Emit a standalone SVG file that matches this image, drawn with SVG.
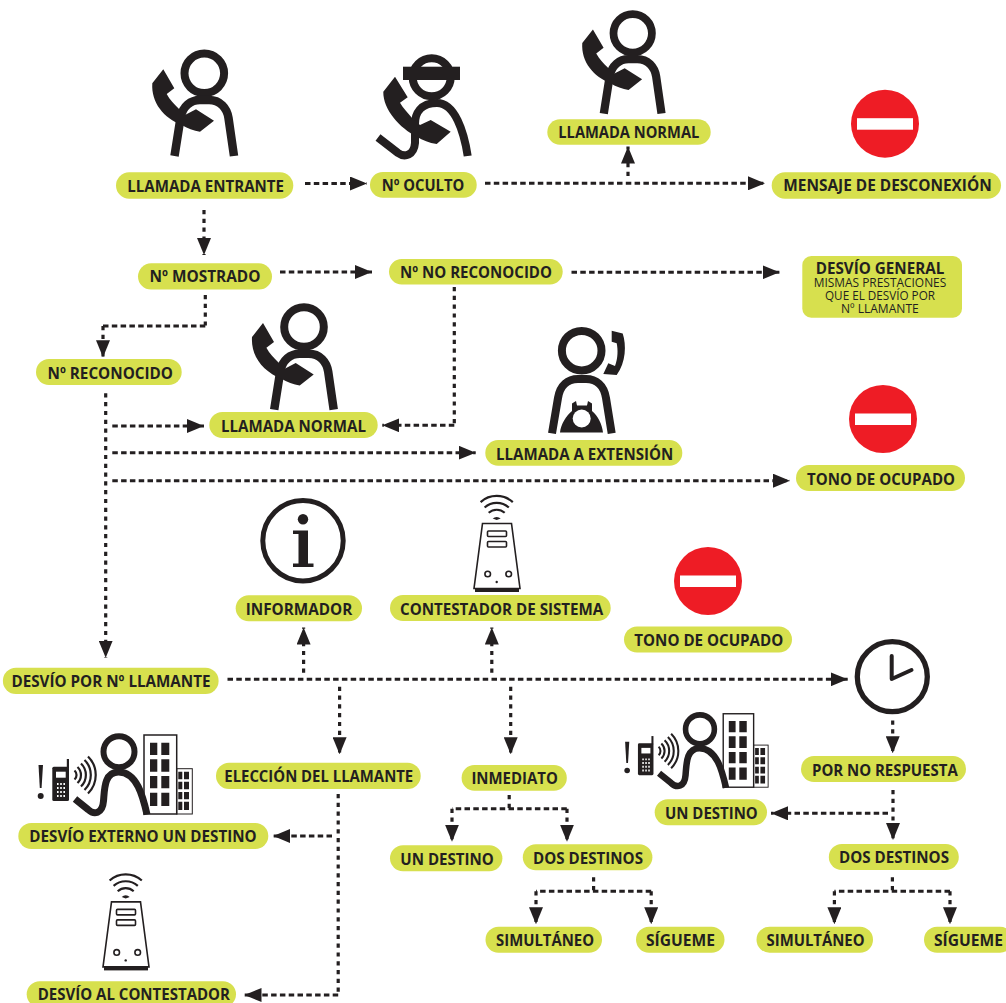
<svg xmlns="http://www.w3.org/2000/svg" xmlns:xlink="http://www.w3.org/1999/xlink" width="1006" height="1003" viewBox="0 0 1006 1003">
<style>
.p{fill:#d7e04e}
.t{font-family:"Open Sans","Liberation Sans",sans-serif;font-weight:700;font-size:16.5px;fill:#231f20}
.s{font-family:"Open Sans","Liberation Sans",sans-serif;font-weight:400;font-size:12.5px;fill:#231f20}
.k{fill:#231f20}
.o{fill:none;stroke:#231f20;stroke-width:8}
.c{fill:none;stroke:#231f20;stroke-width:3;stroke-dasharray:5.5 3.3}
.v{fill:none;stroke:#231f20;stroke-width:3.2;stroke-dasharray:4.2 4.6}
.a{marker-end:url(#ah)}
.w{fill:none;stroke:#231f20;stroke-width:2}
</style>
<defs>
<marker id="ah" markerUnits="userSpaceOnUse" markerWidth="17" markerHeight="14" refX="17" refY="7" orient="auto"><path d="M0 0L17 7L0 14Z" fill="#231f20"/></marker>
<g id="person">
<circle cx="204.3" cy="73.3" r="19.8" class="o"/>
<path class="o" style="stroke-width:8.5" d="M174.5 156L180.5 118C182.5 106 191 100 200 100L209 100C220 100 227 108 228.5 118L234 156"/>
<path class="k" d="M152.3 83.3L163.3 69.3L174.3 88.3L166.7 94C170 100 174 104 178.3 108.3L185 115L196 109.3L214 120.7L200 131.7C194 131 187 128 181.7 125C164 118 151 103 152.3 83.3Z"/>
</g>
<g id="stop"><circle cx="0" cy="0" r="34" fill="#ee1c25"/><rect x="-28" y="-5.5" width="56" height="11.5" fill="#fff"/></g>
<g id="machine">
<path class="w" d="M480.6 502.1A24 24 0 0 1 512.8 502.1M484.6 507.5A18 18 0 0 1 508.8 507.5M488.7 512.8A12 12 0 0 1 504.7 512.8" style="stroke-width:2.2"/>
<path class="k" d="M492.7 518.5A6 6 0 0 1 500.7 518.5L496.7 520Z"/>
<path fill="#fff" stroke="#231f20" stroke-width="1.6" d="M482.5 523.5L511.5 523.5L520 588.5L474 588.5Z"/>
<rect x="475" y="588.5" width="44" height="3.5" class="k"/>
<rect x="487.5" y="531" width="19" height="5.5" rx="1" fill="none" stroke="#231f20" stroke-width="1.6"/>
<rect x="487.5" y="541.5" width="19" height="5.5" rx="1" fill="none" stroke="#231f20" stroke-width="1.6"/>
<circle cx="487.7" cy="574" r="2.8" fill="none" stroke="#231f20" stroke-width="1.6"/>
<circle cx="508.7" cy="574" r="2.8" fill="none" stroke="#231f20" stroke-width="1.6"/>
<circle cx="496.7" cy="582" r="1.2" class="k"/>
</g>
<g id="external">
<path class="k" d="M38.5 765L43 765L41.6 788L39.8 788Z"/><circle cx="40.7" cy="796" r="3" class="k"/>
<rect x="52.3" y="766.7" width="16.7" height="34.3" rx="1.5" class="k"/><rect x="66.8" y="759" width="2.2" height="9" class="k"/>
<rect x="56" y="771.7" width="9.7" height="6" fill="#fff"/>
<path d="M57 784h1.6M60.2 784h1.6M63.4 784h1.6M57 788h1.6M60.2 788h1.6M63.4 788h1.6M57 792h1.6M60.2 792h1.6M63.4 792h1.6M57 796h1.6M60.2 796h1.6M63.4 796h1.6" stroke="#fff" stroke-width="2" fill="none"/>
<path class="w" d="M74.5 770.5A6 6 0 0 1 74.5 779.5M77.5 767A11 11 0 0 1 77.5 783M81 763.5A16 16 0 0 1 81 786.5M84.5 760A21 21 0 0 1 84.5 790M88 756.5A26 26 0 0 1 88 793.5" style="stroke-width:2.2"/>
<rect x="176.7" y="768.7" width="15.6" height="45.3" fill="#fff" stroke="#231f20" stroke-width="1"/>
<path class="k" d="M178.3 771.7h4v7.6h-4zM184 771.7h5v7.6h-5zM178.3 781.7h4v7.6h-4zM184 781.7h5v7.6h-5zM178.3 792h4v7.3h-4zM184 792h5v7.3h-5zM178.3 801.7h4v8.3h-4zM184 801.7h5v8.3h-5z"/>
<rect x="144" y="735" width="32.7" height="79" fill="#fff" stroke="#231f20" stroke-width="1.5"/>
<path class="k" d="M150 742.7h7.3v12.3h-7.3zM161.3 742.7h8v12.3h-8zM150 759.3h7.3v12.4h-7.3zM161.3 759.3h8v12.4h-8zM150 776h7.3v12.3h-7.3zM161.3 776h8v12.3h-8zM150 792.7h7.3v13.3h-7.3zM161.3 792.7h8v13.3h-8z"/>
<circle cx="119" cy="751.7" r="15.5" fill="none" stroke="#231f20" stroke-width="6"/>
<path d="M147 814.5C143 797 137 772 118.5 772C104 772 104.5 790 103.5 801C102.5 814 94 815 88 809.5L75 799" fill="none" stroke="#231f20" stroke-width="7"/>
</g>
</defs>

<g id="connectors">
<path class="c a" d="M305 183.5H367"/>
<path class="c a" d="M485 183.3H765"/>
<path class="v a" d="M628 176V146.5"/>
<path class="v a" d="M204 210V255"/>
<path class="c a" d="M280 272H372"/>
<path class="c a" d="M571.5 272.3H779.5"/>
<path class="v" d="M205.3 295V326"/>
<path class="c" d="M205.3 326H103"/>
<path class="v a" d="M103 326V357.3"/>
<path class="v" d="M454.3 287V425.3"/>
<path class="c a" d="M454.3 425.3H382.3"/>
<path class="v a" d="M105.7 393.3V657.7"/>
<path class="c a" d="M112.3 426H204"/>
<path class="c a" d="M112.3 452.7H475.7"/>
<path class="c a" d="M112.3 480.7H790"/>
<path class="c a" d="M227.5 679.3H847.7"/>
<path class="v a" d="M303.6 672.7V627.5"/>
<path class="v a" d="M491.8 672.7V627.5"/>
<path class="v a" d="M339.6 686.7V754.3"/>
<path class="v a" d="M510.7 686.7V754.3"/>
<path class="v a" d="M892.7 720.5V753.3"/>
<path class="v a" d="M893 790V840"/>
<path class="c a" d="M888 813.3H771"/>
<path class="v" d="M338.2 794V995"/>
<path class="c a" d="M338.2 995H244.5"/>
<path class="c a" d="M332 836H273.3"/>
<path class="v" d="M509.2 795V808.7"/>
<path class="c" d="M566.8 808.7H452"/>
<path class="v a" d="M452 808.7V841.7"/>
<path class="v a" d="M567 808.7V841.7"/>
<path class="v" d="M593.6 877.3V891.3"/>
<path class="c" d="M651.2 891.3H536"/>
<path class="v a" d="M536 891.3V924.3"/>
<path class="v a" d="M651.2 891.3V924.3"/>
<path class="v" d="M892.4 877.3V891.3"/>
<path class="c" d="M950 891.3H834.4"/>
<path class="v a" d="M834.4 891.3V924.3"/>
<path class="v a" d="M950 891.3V924.3"/>
</g>

<g id="llamada-entrante"><use href="#person"/><rect class="p" x="116" y="172.3" width="177.3" height="26.4" rx="13.2"/><text class="t" x="127.3" y="191.7" textLength="156.7" lengthAdjust="spacingAndGlyphs">LLAMADA ENTRANTE</text></g>

<g id="numero-oculto">
<circle cx="431.7" cy="77.3" r="19" class="o"/>
<rect x="403" y="66.7" width="57" height="13.3" class="k"/>
<path class="o" d="M467.7 156C464 132 455 103 437 103C420 103 415 114 415 124L415 143C414 155 405 158 398 153L378 137.5"/>
<path class="k" d="M383.3 91.7L395 76.7L407.7 97.3L400 102.7C403 108 408 113 412 118L420 125L430.7 120L450.7 131.7L436.7 144C429 143 423 140 416.7 136.7C400 128 383 110 383.3 91.7Z"/>
<rect class="p" x="370" y="172" width="106.7" height="25.7" rx="12.8"/><text class="t" x="381.7" y="190.7" textLength="82.6" lengthAdjust="spacingAndGlyphs">Nº OCULTO</text></g>

<g id="llamada-normal-1"><use href="#person" transform="translate(632.7 33.3) scale(.97) translate(-204.3 -73.3)"/><rect class="p" x="547.3" y="119.3" width="163.4" height="25.4" rx="12.7"/><text class="t" x="558.3" y="138.3" textLength="141" lengthAdjust="spacingAndGlyphs">LLAMADA NORMAL</text></g>

<g id="mensaje-desconexion"><use href="#stop" x="885" y="123.7"/><rect class="p" x="771.7" y="172.3" width="229.3" height="26.4" rx="13.2"/><text class="t" x="783.3" y="190.7" textLength="208.4" lengthAdjust="spacingAndGlyphs">MENSAJE DE DESCONEXIÓN</text></g>

<g id="numero-mostrado"><rect class="p" x="138" y="263.3" width="134" height="26.2" rx="13.1"/><text class="t" x="149.5" y="281.7" textLength="111" lengthAdjust="spacingAndGlyphs">Nº MOSTRADO</text></g>

<g id="numero-no-reconocido"><rect class="p" x="389" y="259" width="173.7" height="25.5" rx="12.7"/><text class="t" x="400" y="277.7" textLength="152" lengthAdjust="spacingAndGlyphs">Nº NO RECONOCIDO</text></g>

<g id="desvio-general"><rect class="p" x="802.3" y="256" width="159.7" height="61.7" rx="9"/>
<text class="s"><tspan class="t" x="815.7" y="274" textLength="128.6" lengthAdjust="spacingAndGlyphs">DESVÍO GENERAL</tspan><tspan x="813.7" y="287.3" textLength="132.6" lengthAdjust="spacingAndGlyphs">MISMAS PRESTACIONES</tspan><tspan x="825" y="300" textLength="110" lengthAdjust="spacingAndGlyphs">QUE EL DESVÍO POR</tspan><tspan x="841" y="313.3" textLength="77.7" lengthAdjust="spacingAndGlyphs">Nº LLAMANTE</tspan></text></g>

<g id="numero-reconocido"><rect class="p" x="36" y="359" width="145.7" height="26" rx="13"/><text class="t" x="47.5" y="378.5" textLength="125.5" lengthAdjust="spacingAndGlyphs">Nº RECONOCIDO</text></g>

<g id="llamada-normal-2"><use href="#person" transform="translate(99.7 253.7)"/><rect class="p" x="209.3" y="412" width="168.4" height="26" rx="13"/><text class="t" x="221" y="431.7" textLength="145" lengthAdjust="spacingAndGlyphs">LLAMADA NORMAL</text></g>

<g id="llamada-extension">
<circle cx="581.7" cy="350.7" r="19.8" class="o"/>
<path class="o" d="M552 433.3L558 398C560 385 568 379 578 379L586 379C596 379 604 385 606 398L611.7 433.3"/>
<path class="k" d="M560 432.5C561 424 566 416 572 411L572 403.5L576 401L577 405.5L587 405.5L588 401L592 403.5L592 411C598 416 602 424 603 432.5Z"/>
<circle cx="581.7" cy="418.5" r="9" fill="#fff"/>
<path class="k" d="M611.7 330.7L622.7 333.5C626.5 345 626 362 616.7 375L603.3 374L608.3 363.3L615 366C618 358 618 350 616.7 343.3L611.7 341.7Z"/>
<rect class="p" x="485.3" y="440" width="197" height="25.7" rx="12.8"/><text class="t" x="496" y="460" textLength="177.3" lengthAdjust="spacingAndGlyphs">LLAMADA A EXTENSIÓN</text></g>

<g id="tono-ocupado-1"><use href="#stop" x="883" y="419"/><rect class="p" x="796" y="465" width="169" height="26" rx="13"/><text class="t" x="807" y="485" textLength="148" lengthAdjust="spacingAndGlyphs">TONO DE OCUPADO</text></g>

<g id="informador">
<circle cx="303" cy="540.7" r="40.2" fill="none" stroke="#231f20" stroke-width="5"/>
<circle cx="303" cy="519.3" r="5.2" class="k"/>
<path class="k" d="M293 530.5H308V563.5H313.5V567H293V563.5H298.5V534H293Z"/>
<rect class="p" x="235.7" y="595.3" width="126.3" height="26" rx="13"/><text class="t" x="245.7" y="615" textLength="106.6" lengthAdjust="spacingAndGlyphs">INFORMADOR</text></g>

<g id="contestador-sistema"><use href="#machine"/><rect class="p" x="390" y="595" width="220.7" height="26" rx="13"/><text class="t" x="400" y="615" textLength="203.3" lengthAdjust="spacingAndGlyphs">CONTESTADOR DE SISTEMA</text></g>

<g id="tono-ocupado-2"><use href="#stop" x="708" y="581"/><rect class="p" x="624" y="626.5" width="168" height="26" rx="13"/><text class="t" x="634.3" y="645.7" textLength="149" lengthAdjust="spacingAndGlyphs">TONO DE OCUPADO</text></g>

<g id="desvio-numero-llamante"><rect class="p" x="2.9" y="667.7" width="215.7" height="26.3" rx="13.1"/><text class="t" x="11.5" y="687" textLength="199" lengthAdjust="spacingAndGlyphs">DESVÍO POR Nº LLAMANTE</text></g>

<g id="reloj">
<circle cx="892.3" cy="676.7" r="35" fill="none" stroke="#231f20" stroke-width="5.3"/>
<path d="M891.7 656V679L911.5 670" fill="none" stroke="#231f20" stroke-width="4" stroke-linecap="round" stroke-linejoin="round"/></g>

<g id="desvio-externo"><use href="#external"/><rect class="p" x="18.3" y="823" width="250" height="26" rx="13"/><text class="t" x="29.3" y="841.7" textLength="227.4" lengthAdjust="spacingAndGlyphs">DESVÍO EXTERNO UN DESTINO</text></g>

<g id="eleccion-llamante"><rect class="p" x="216" y="762.7" width="204.7" height="26.3" rx="13.1"/><text class="t" x="224.3" y="781.7" textLength="188.9" lengthAdjust="spacingAndGlyphs">ELECCIÓN DEL LLAMANTE</text></g>

<g id="inmediato"><rect class="p" x="461.6" y="765" width="105.2" height="25.7" rx="12.8"/><text class="t" x="471.4" y="783.5" textLength="86.5" lengthAdjust="spacingAndGlyphs">INMEDIATO</text></g>

<g id="por-no-respuesta"><rect class="p" x="801" y="756" width="165" height="26" rx="13"/><text class="t" x="812" y="776" textLength="145.7" lengthAdjust="spacingAndGlyphs">POR NO RESPUESTA</text></g>

<g id="un-destino-respuesta"><use href="#external" transform="translate(589.3 30.2) scale(.93)"/><rect class="p" x="654.7" y="799.3" width="112.3" height="26" rx="13"/><text class="t" x="665" y="819" textLength="92.7" lengthAdjust="spacingAndGlyphs">UN DESTINO</text></g>

<g id="dos-destinos-respuesta"><rect class="p" x="828.8" y="844" width="130" height="26" rx="13"/><text class="t" x="839" y="863.3" textLength="110" lengthAdjust="spacingAndGlyphs">DOS DESTINOS</text></g>

<g id="desvio-contestador"><use href="#machine" transform="translate(-371 378.4)"/><rect class="p" x="26.7" y="981.3" width="209.3" height="26" rx="13"/><text class="t" x="37.7" y="1000" textLength="192.3" lengthAdjust="spacingAndGlyphs">DESVÍO AL CONTESTADOR</text></g>

<g id="un-destino-inmediato"><rect class="p" x="390" y="845.3" width="112.4" height="26" rx="13"/><text class="t" x="400.3" y="864.8" textLength="93.5" lengthAdjust="spacingAndGlyphs">UN DESTINO</text></g>
<g id="dos-destinos-inmediato"><rect class="p" x="522.8" y="844.3" width="129.6" height="26" rx="13"/><text class="t" x="533" y="863.8" textLength="110" lengthAdjust="spacingAndGlyphs">DOS DESTINOS</text></g>
<g id="simultaneo-1"><rect class="p" x="485.5" y="926.7" width="116.5" height="26" rx="13"/><text class="t" x="496" y="945.5" textLength="98" lengthAdjust="spacingAndGlyphs">SIMULTÁNEO</text></g>
<g id="sigueme-1"><rect class="p" x="636" y="926.7" width="88.5" height="26" rx="13"/><text class="t" x="646" y="945.5" textLength="69" lengthAdjust="spacingAndGlyphs">SÍGUEME</text></g>
<g id="simultaneo-2"><rect class="p" x="756.5" y="926.7" width="116.5" height="26" rx="13"/><text class="t" x="766.5" y="945.5" textLength="98" lengthAdjust="spacingAndGlyphs">SIMULTÁNEO</text></g>
<g id="sigueme-2"><rect class="p" x="924" y="926.7" width="89" height="26" rx="13"/><text class="t" x="934" y="945.5" textLength="69" lengthAdjust="spacingAndGlyphs">SÍGUEME</text></g>
</svg>
